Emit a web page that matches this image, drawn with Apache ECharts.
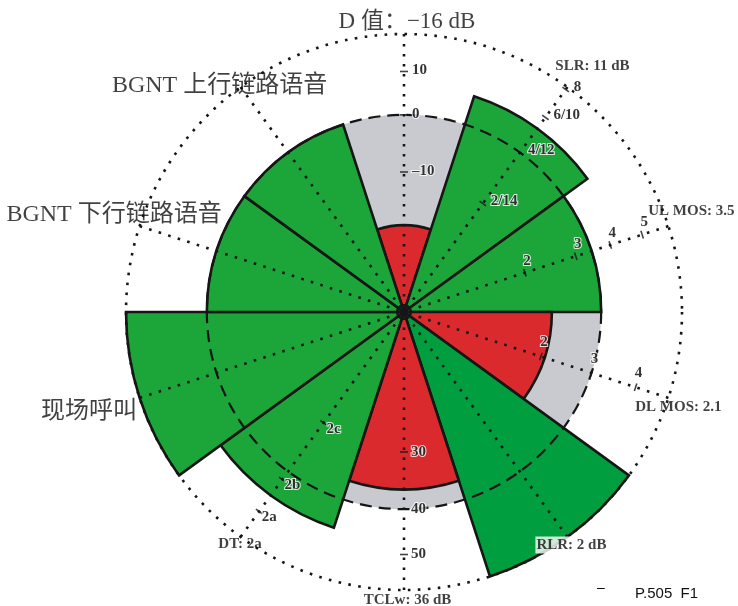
<!DOCTYPE html>
<html><head><meta charset="utf-8">
<script src="https://cdn.jsdelivr.net/npm/echarts@6/dist/echarts.min.js"></script>
<style>html,body{margin:0;padding:0;background:#fff}#chart{width:738px;height:606px}</style>
</head><body><div id="chart"></div>
<script>
// ---- data (radius relative to the reference circle = 100) ----
const categories = ['D 值', 'SLR', 'UL MOS', 'DL MOS', 'RLR', 'TCLw', 'DT', '现场呼叫', 'BGNT 下行链路语音', 'BGNT 上行链路语音'];
const rating = [44, 115, 100, 75, 141, 90, 115, 141, 100, 100];
const referenceLevel = 100;
const outerLevel = 141;
const axisTitles = ['D 值：−16 dB', 'SLR: 11 dB', 'UL MOS: 3.5', 'DL MOS: 2.1', 'RLR: 2 dB', 'TCLw: 36 dB', 'DT: 2a', '现场呼叫', 'BGNT 下行链路语音', 'BGNT 上行链路语音'];
const dTickPos = [122, 100, 71];
const dTickText = ['10', '0', '–10'];
const slrTickPos = [68, 100, 122, 139.5];
const slrTickText = ['2/14', '4/12', '6/10', '8'];
const ulTickPos = [64.5, 91.6, 110, 127];
const ulTickText = ['2', '3', '4', '5'];
const dlTickPos = [73, 100, 123.5];
const dlTickText = ['2', '3', '4'];
const tclTickPos = [71, 100, 123];
const tclTickText = ['30', '40', '50'];
const dtTickPos = [69.5, 105, 125];
const dtTickText = ['2c', '2b', '2a'];

// ---- styles ----
const C = {green: '#1ca63a', dark: '#009e3e', red: '#da2a2e', gray: '#c9cacf', ink: '#161616', text: '#111'};
const serif = "'Liberation Serif', 'Noto Sans CJK SC', serif";
const STEP = 360 / categories.length;
const CENTER = [404, 312];
const RADIUS = 278;

const mainData = rating.map((v, i) => ({
  value: v,
  itemStyle: {color: v < referenceLevel ? C.red : (categories[i] === 'RLR' ? C.dark : C.green)}
}));
const grayData = rating.map(v => v < referenceLevel ? referenceLevel : '-');

const tickSets = [
  {axis: 0, pos: dTickPos, text: dTickText, align: 'left', offset: [8, -1]},
  {axis: 1, pos: slrTickPos, text: slrTickText, align: 'left', offset: [8, -2]},
  {axis: 2, pos: ulTickPos, text: ulTickText, align: 'center', offset: [2, -12]},
  {axis: 3, pos: dlTickPos, text: dlTickText, align: 'center', offset: [3, -14]},
  {axis: 5, pos: tclTickPos, text: tclTickText, align: 'left', offset: [7, 0]},
  {axis: 6, pos: dtTickPos, text: dtTickText, align: 'center', offset: [10, 6]}
];
const tickData = [];
tickSets.forEach(s => s.pos.forEach((p, k) => tickData.push({
  name: s.text[k],
  value: [p, s.axis * STEP],
  symbolRotate: -s.axis * STEP,
  label: {align: s.align, offset: s.offset}
})));

const titleStyle = [
  {offset: [3, -12], fontSize: 23, fontWeight: 'normal'},
  {offset: [25, -21]},
  {offset: [23, -15]},
  {offset: [10, 9]},
  {offset: [4, 8], backgroundColor: '#fff', padding: [1, 1]},
  {offset: [3.5, 10]},
  {offset: [-0.5, 7]},
  {offset: [-50.5, 13.5], fontSize: 24, fontWeight: 'normal'},
  {offset: [-25.5, -11.5], fontSize: 24, fontWeight: 'normal'},
  {offset: [-21, -1.5], fontSize: 24, fontWeight: 'normal'}
];
const titleData = axisTitles.map((t, i) => ({
  name: t,
  value: [outerLevel, i * STEP],
  label: Object.assign({fontSize: 15, fontWeight: 'bold'}, titleStyle[i])
}));

const dotted = [2.6, 7.4];

const option = {
  animation: false,
  backgroundColor: '#fff',
  polar: [
    {center: CENTER, radius: RADIUS},
    {center: CENTER, radius: RADIUS}
  ],
  angleAxis: [
    {
      polarIndex: 0, type: 'category', data: categories, startAngle: 90 + STEP / 2, clockwise: true,
      axisLine: {show: false}, axisTick: {show: false}, axisLabel: {show: false}, splitLine: {show: false}
    },
    {
      polarIndex: 1, type: 'value', min: 0, max: 360, interval: STEP, startAngle: 90, clockwise: true, z: 5,
      axisLine: {show: true, lineStyle: {color: C.ink, width: 2.6, type: dotted}},
      axisTick: {show: false}, axisLabel: {show: false},
      splitLine: {show: true, lineStyle: {color: C.ink, width: 2.6, type: dotted}}
    }
  ],
  radiusAxis: [
    {
      polarIndex: 0, type: 'value', min: 0, max: outerLevel,
      axisLine: {show: false}, axisTick: {show: false}, axisLabel: {show: false}, splitLine: {show: false}
    },
    {
      polarIndex: 1, type: 'value', min: 0, max: outerLevel, interval: referenceLevel, z: 5,
      axisLine: {show: false}, axisTick: {show: false}, axisLabel: {show: false},
      splitLine: {show: true, lineStyle: {color: ['transparent', C.ink, 'transparent'], width: 2.2, type: [12, 7]}}
    }
  ],
  series: [
    {
      type: 'bar', coordinateSystem: 'polar', polarIndex: 0, name: 'shortfall',
      data: grayData, barCategoryGap: '0%', barGap: '-100%', silent: true,
      itemStyle: {color: C.gray, borderWidth: 0}
    },
    {
      type: 'bar', coordinateSystem: 'polar', polarIndex: 0, name: 'rating',
      data: mainData, barCategoryGap: '0%', barGap: '-100%', silent: true,
      itemStyle: {borderColor: C.ink, borderWidth: 2.6}
    },
    {
      type: 'scatter', coordinateSystem: 'polar', polarIndex: 1, name: 'ticks', z: 10, silent: true,
      symbol: 'rect', symbolSize: [8, 1.6], itemStyle: {color: C.ink},
      data: tickData,
      label: {
        show: true, position: 'inside', formatter: '{b}', verticalAlign: 'middle',
        fontFamily: serif, fontSize: 15, fontWeight: 'bold', color: '#000',
        textBorderColor: '#fff', textBorderWidth: 2
      }
    },
    {
      type: 'scatter', coordinateSystem: 'polar', polarIndex: 1, name: 'titles', z: 11, silent: true,
      symbol: 'circle', symbolSize: 1, itemStyle: {color: 'transparent'},
      data: titleData,
      label: {
        show: true, position: 'inside', formatter: '{b}', align: 'center', verticalAlign: 'middle',
        fontFamily: serif, color: C.text
      }
    }
  ],
  graphic: [
    {type: 'text', x: 635, y: 594, silent: true,
     style: {text: 'P.505  F1', fontFamily: "'Liberation Sans', Arial, sans-serif", fontSize: 15, fill: C.text, verticalAlign: 'middle'}},
    {type: 'text', x: 597, y: 588, silent: true,
     style: {text: '–', fontFamily: "'Liberation Sans', Arial, sans-serif", fontSize: 14, fill: C.text, verticalAlign: 'middle'}}
  ]
};

const chart = echarts.init(document.getElementById('chart'), null, {renderer: 'canvas'});
chart.setOption(option);
</script>
</body></html>
